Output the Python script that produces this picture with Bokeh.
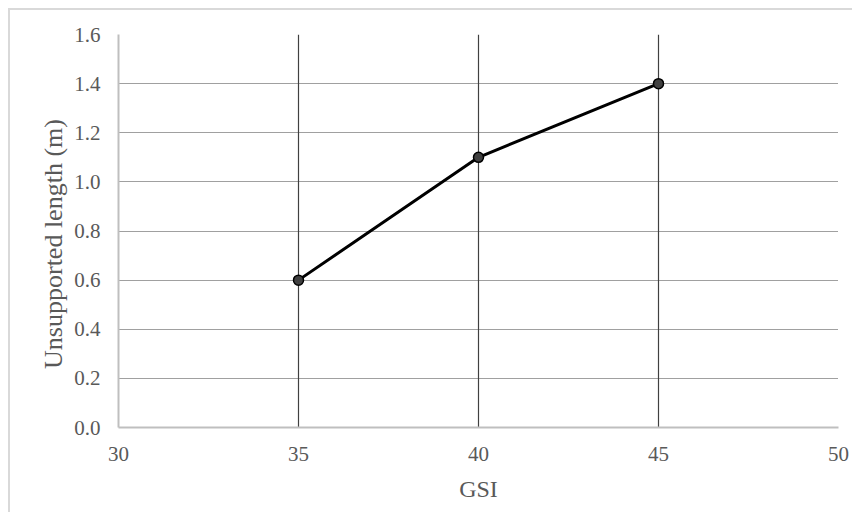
from bokeh.plotting import figure
from bokeh.models import Range1d, FixedTicker, CustomJSTickFormatter
from bokeh.embed import file_html
from bokeh.resources import INLINE

gsi = [35, 40, 45]
unsupported_length = [0.6, 1.1, 1.4]
x_ticks = [30, 35, 40, 45, 50]
y_ticks = [0.0, 0.2, 0.4, 0.6, 0.8, 1.0, 1.2, 1.4, 1.6]
x_title = "GSI"
y_title = "Unsupported length (m)"

FONT = "Liberation Serif"
GREY = "#595959"

p = figure(width=844, height=504, output_backend="svg", toolbar_location=None,
           x_range=Range1d(30, 50), y_range=Range1d(0, 1.6),
           min_border_left=108, min_border_top=24, min_border_right=16, min_border_bottom=87)
p.styles = {"margin-left": "8px", "margin-top": "8px",
            "border-left": "2px solid #d9d9d9", "border-top": "2px solid #d9d9d9"}
p.outline_line_color = None
p.background_fill_color = "white"
p.border_fill_color = "white"

# grids
p.xgrid.ticker = FixedTicker(ticks=x_ticks[1:])
p.xgrid.grid_line_color = "#404040"
p.xgrid.grid_line_width = 1.2
p.ygrid.ticker = FixedTicker(ticks=y_ticks[1:])
p.ygrid.grid_line_color = "#404040"
p.ygrid.grid_line_dash = "1 1"
p.ygrid.grid_line_width = 1.2

for ax, ticks in ((p.xaxis, x_ticks), (p.yaxis, y_ticks)):
    ax.ticker = FixedTicker(ticks=ticks)
    ax.axis_line_color = "#bfbfbf"
    ax.axis_line_width = 2
    ax.major_tick_line_color = None
    ax.minor_tick_line_color = None
    ax.major_tick_in = 0
    ax.major_tick_out = 0
    ax.major_label_text_font = FONT
    ax.major_label_text_font_size = "21px"
    ax.major_label_text_color = GREY
    ax.axis_label_text_font = FONT
    ax.axis_label_text_font_style = "normal"
    ax.axis_label_text_color = GREY

p.yaxis.formatter = CustomJSTickFormatter(code="return tick.toFixed(1);")
p.xaxis.major_label_standoff = 19
p.yaxis.major_label_standoff = 18
p.xaxis.axis_label = x_title
p.xaxis.axis_label_text_font_size = "24px"
p.xaxis.axis_label_standoff = 12
p.yaxis.axis_label = y_title + "\u00a0" * 4
p.yaxis.axis_label_text_font_size = "26px"
p.yaxis.axis_label_standoff = 3

p.line(gsi, unsupported_length, line_color="black", line_width=3)
p.scatter(gsi, unsupported_length, size=10, fill_color="#404040", line_color="black", line_width=1.5)

open("out.html", "w").write(file_html(p, INLINE))
